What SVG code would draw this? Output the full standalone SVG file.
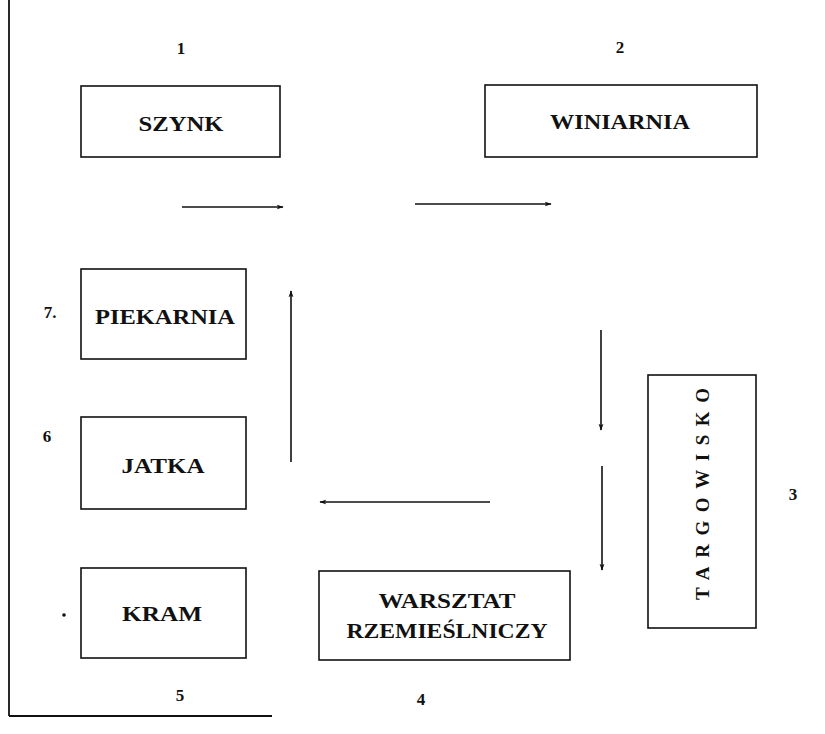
<svg xmlns="http://www.w3.org/2000/svg" width="825" height="734" viewBox="0 0 825 734">
<defs>
<style>
.box{fill:none;stroke:#111;stroke-width:1.6}
.lbl{font-family:"Liberation Serif",serif;font-weight:bold;font-size:21px;fill:#111;text-anchor:middle}
.num{font-family:"Liberation Serif",serif;font-weight:bold;font-size:17px;fill:#111;text-anchor:middle}
.conn line{stroke:#111;stroke-width:1.6}
</style>
<marker id="ah" viewBox="0 0 10 10" refX="9" refY="5" markerWidth="7" markerHeight="7" orient="auto" markerUnits="userSpaceOnUse">
<path d="M0,1.5 L10,5 L0,8.5 L2.5,5 Z" fill="#111"/>
</marker>
</defs>
<rect width="825" height="734" fill="#fff"/>
<g id="frame">
<line x1="9" y1="0" x2="9" y2="716" stroke="#111" stroke-width="1.8"/>
<line x1="9" y1="716" x2="272" y2="716" stroke="#111" stroke-width="1.8"/>
</g>
<g id="n1">
<rect class="box" x="81" y="86" width="199" height="71"/>
<text class="lbl" x="181" y="131" textLength="85" lengthAdjust="spacingAndGlyphs">SZYNK</text>
<text class="num" x="181" y="54">1</text>
</g>
<g id="n2">
<rect class="box" x="485" y="85" width="272" height="72"/>
<text class="lbl" x="620" y="129" textLength="140" lengthAdjust="spacingAndGlyphs">WINIARNIA</text>
<text class="num" x="620" y="53">2</text>
</g>
<g id="n3">
<rect class="box" x="648" y="375" width="108" height="253"/>
<text class="lbl" transform="translate(709,494) rotate(-90)" textLength="212" lengthAdjust="spacing" style="font-size:19px">TARGOWISKO</text>
<text class="num" x="793" y="500">3</text>
</g>
<g id="n4">
<rect class="box" x="319" y="571" width="251" height="89"/>
<text class="lbl" x="447" y="608" textLength="137" lengthAdjust="spacingAndGlyphs">WARSZTAT</text>
<text class="lbl" x="447" y="638" textLength="201" lengthAdjust="spacingAndGlyphs">RZEMIEŚLNICZY</text>
<text class="num" x="421" y="705">4</text>
</g>
<g id="n5">
<rect class="box" x="81" y="568" width="165" height="90"/>
<text class="lbl" x="162" y="621" textLength="80" lengthAdjust="spacingAndGlyphs">KRAM</text>
<text class="num" x="180" y="701">5</text>
<circle cx="64" cy="615" r="1.8" fill="#111"/>
</g>
<g id="n6">
<rect class="box" x="81" y="417" width="165" height="92"/>
<text class="lbl" x="163" y="473" textLength="83" lengthAdjust="spacingAndGlyphs">JATKA</text>
<text class="num" x="47" y="442">6</text>
</g>
<g id="n7">
<rect class="box" x="81" y="269" width="165" height="90"/>
<text class="lbl" x="165" y="324" textLength="140" lengthAdjust="spacingAndGlyphs">PIEKARNIA</text>
<text class="num" x="50" y="318">7.</text>
</g>
<g id="connectors" class="conn">
<line x1="182" y1="207" x2="283" y2="207" marker-end="url(#ah)"/>
<line x1="415" y1="204" x2="551" y2="204" marker-end="url(#ah)"/>
<line x1="601" y1="330" x2="601" y2="430" marker-end="url(#ah)"/>
<line x1="602" y1="466" x2="602" y2="570" marker-end="url(#ah)"/>
<line x1="490" y1="502" x2="320" y2="502" marker-end="url(#ah)"/>
<line x1="291" y1="462" x2="291" y2="291" marker-end="url(#ah)"/>
</g>
</svg>
